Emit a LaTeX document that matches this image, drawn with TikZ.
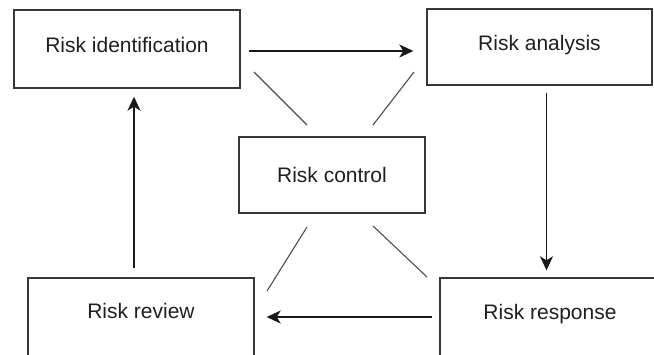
\documentclass[tikz,border=0pt]{standalone}
\usepackage{fontspec}
\setmainfont{Liberation Sans}
\usetikzlibrary{arrows.meta,positioning,calc}

\tikzset{
  box/.style={draw=black!78, line width=1.4pt, rectangle, inner sep=0pt,
    font=\fontsize{21}{25}\selectfont, text=black!88, text height=15pt},
  arrow/.style={-{Stealth[length=14pt,width=13pt,inset=4pt]}, line width=1.5pt, black!90},
  link/.style={line width=1.1pt, black!70}
}

\begin{document}
\begin{tikzpicture}[x=1pt,y=-1pt]
        \useasboundingbox (0,0) rectangle (654,354);
        % the five boxes
        \node[box, minimum width=226pt, minimum height=78pt, text depth=8pt] (ident) at (127,49) {Risk identification};
        \node[box, minimum width=225pt, minimum height=76pt, text depth=8pt] (analysis) at (539.5,47) {Risk analysis};
        \node[box, minimum width=186pt, minimum height=76pt, text depth=0pt] (control) at (332,175) {Risk control};
        \node[box, minimum width=226pt, minimum height=86pt, text depth=20pt] (review) at (141,321) {Risk review};
        \node[box, minimum width=220pt, minimum height=86pt, text depth=18pt] (response) at (550,321) {Risk response};
        % the cycle
        \draw[arrow, shorten <=8pt, shorten >=13pt] ([yshift=-2pt]ident.east) -- ([yshift=-2pt]ident.east -| analysis.west);
        \draw[arrow, shorten <=7pt, shorten >=7pt] ([xshift=7pt]analysis.south) -- ([xshift=7pt]analysis.south |- response.north);
        \draw[arrow, shorten <=7pt, shorten >=12pt] ([yshift=4pt]response.west) -- ([yshift=4pt]response.west -| review.east);
        \draw[arrow, shorten <=9pt, shorten >=8pt] ([xshift=-7pt]review.north) -- ([xshift=7pt]ident.south);
        % short lines round the control box
        \coordinate (tl1) at (254,72);  \coordinate (tl2) at (307,125);
        \coordinate (tr1) at (414,72);  \coordinate (tr2) at (373,125);
        \coordinate (bl1) at (307,227); \coordinate (bl2) at (267,291);
        \coordinate (br1) at (373,226); \coordinate (br2) at (427,277);
        \draw[link] (tl1) -- (tl2);
        \draw[link] (tr1) -- (tr2);
        \draw[link] (bl1) -- (bl2);
        \draw[link] (br1) -- (br2);
      \end{tikzpicture}
\end{document}
